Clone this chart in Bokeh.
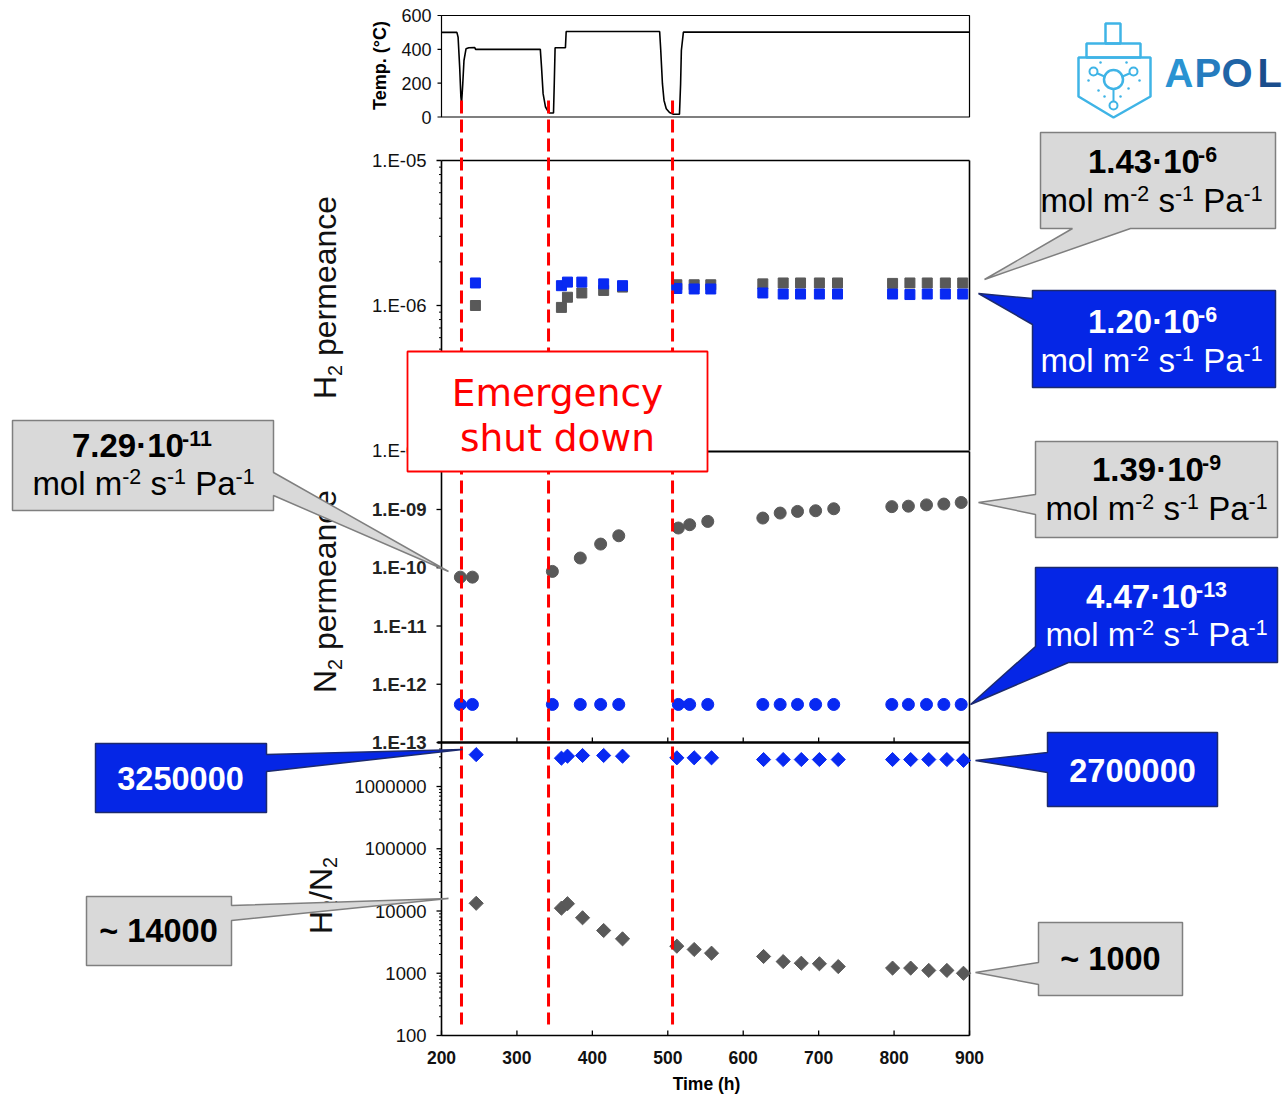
import numpy as np
from bokeh.plotting import figure
from bokeh.models import Range1d, LogScale, LinearScale, ColumnDataSource
from bokeh.core.properties import value, field
from bokeh.embed import file_html
from bokeh.resources import INLINE

# ---------------- data ----------------
# temperature profile (time in h, temperature in degC)
temp_time = [200, 220.4, 222.0, 224.1, 225.7, 226.6, 228.2, 229.8, 232.5, 236.2, 244.1, 245.2,
             331.0, 332.6, 334.7, 337.9, 341.6, 343.2, 348.5, 349.5, 350.6, 364.3, 365.3,
             489.2, 490.7, 492.9, 495.0, 498.0, 502.3, 507.6, 515.5, 517.0, 518.0, 520.7, 900]
temp_value = [500, 500, 472, 295, 118, 79, 197, 334, 403, 409, 410, 400,
              400, 295, 138, 59, 30, 24, 24, 197, 409, 410, 505,
              505, 393, 197, 98, 49, 26, 16, 16, 197, 393, 502, 502]

# H2 permeance (mol m-2 s-1 Pa-1)
h2_time = [245, 359, 367, 386, 415, 440, 512, 535, 557, 626, 653, 676, 701, 725, 798, 821, 844, 868, 891]
h2_grey = [1.00e-6, 0.97e-6, 1.14e-6, 1.22e-6, 1.27e-6, 1.34e-6, 1.39e-6, 1.39e-6, 1.39e-6, 1.41e-6,
           1.43e-6, 1.43e-6, 1.43e-6, 1.43e-6, 1.42e-6, 1.43e-6, 1.43e-6, 1.43e-6, 1.43e-6]
h2_blue = [1.43e-6, 1.37e-6, 1.45e-6, 1.45e-6, 1.41e-6, 1.37e-6, 1.31e-6, 1.30e-6, 1.30e-6, 1.22e-6,
           1.20e-6, 1.20e-6, 1.20e-6, 1.20e-6, 1.20e-6, 1.19e-6, 1.20e-6, 1.20e-6, 1.20e-6]

# N2 permeance (mol m-2 s-1 Pa-1)
n2_time = [225, 241, 347, 384, 411, 435, 514, 529, 553, 626, 649, 672, 696, 720, 797, 819, 843, 866, 889]
n2_grey = [6.9e-11, 6.9e-11, 8.65e-11, 1.47e-10, 2.55e-10, 3.54e-10, 4.81e-10, 5.48e-10, 6.24e-10, 7.13e-10,
           8.69e-10, 9.27e-10, 9.52e-10, 1.03e-9, 1.12e-9, 1.14e-9, 1.20e-9, 1.24e-9, 1.32e-9]
n2_blue = [4.5e-13, 4.5e-13, 4.5e-13, 4.5e-13, 4.5e-13, 4.5e-13, 4.5e-13, 4.5e-13, 4.5e-13, 4.5e-13,
           4.5e-13, 4.5e-13, 4.5e-13, 4.5e-13, 4.5e-13, 4.5e-13, 4.5e-13, 4.5e-13, 4.5e-13]

# H2/N2 ideal selectivity
ratio_time = [246, 359, 367, 387, 415, 440, 512, 535, 558, 627, 653, 677, 701, 726, 798, 822, 846, 870, 892]
ratio_blue = [3.25e6, 2.85e6, 3.07e6, 3.15e6, 3.15e6, 3.07e6, 2.89e6, 2.89e6, 2.89e6, 2.71e6,
              2.71e6, 2.71e6, 2.71e6, 2.71e6, 2.71e6, 2.71e6, 2.71e6, 2.71e6, 2.63e6]
ratio_grey = [1.33e4, 1.11e4, 1.31e4, 7.78e3, 4.86e3, 3.57e3, 2.72e3, 2.41e3, 2.10e3, 1.86e3,
              1.54e3, 1.45e3, 1.42e3, 1.28e3, 1.21e3, 1.21e3, 1.11e3, 1.11e3, 1.00e3]

# emergency shut-down times (h)
shutdown_time = [226.5, 341.9, 506.3]

# ticks
time_ticks = [200, 300, 400, 500, 600, 700, 800, 900]
time_tick_labels = ["200", "300", "400", "500", "600", "700", "800", "900"]
temp_ticks = [0, 200, 400, 600]
temp_tick_labels = ["0", "200", "400", "600"]
h2_ticks = [1e-5, 1e-6, 1e-7]
h2_tick_labels = ["1.E-05", "1.E-06", "1.E-07"]
n2_ticks = [1e-9, 1e-10, 1e-11, 1e-12, 1e-13]
n2_tick_labels = ["1.E-09", "1.E-10", "1.E-11", "1.E-12", "1.E-13"]
ratio_ticks = [1e6, 1e5, 1e4, 1e3, 1e2]
ratio_tick_labels = ["1000000", "100000", "10000", "1000", "100"]

# ---------------- layout ----------------
W, H, M = 1283, 1094, 0
X200, X900 = 441.0, 969.0
PPH = (X900 - X200) / 700.0
t_lo = 200 - (X200 - M) / PPH
t_hi = 200 + (M + W - X200) / PPH
T0_Y, T600_Y = 116.5, 15.0
PPDEG = (T0_Y - T600_Y) / 600.0
temp_lo = -(M + H - T0_Y) / PPDEG
temp_hi = (T0_Y - M) / PPDEG


def log_range(y_ref, log_ref, ppd):
    lo = log_ref - (M + H - y_ref) / ppd
    hi = log_ref + (y_ref - M) / ppd
    return Range1d(10 ** lo, 10 ** hi)


p = figure(width=W, height=H, x_range=Range1d(t_lo, t_hi), y_range=Range1d(temp_lo, temp_hi),
           x_axis_type=None, y_axis_type=None, output_backend="svg", toolbar_location=None,
           min_border=0, outline_line_color=None,
           background_fill_color="white", border_fill_color="white")
p.extra_x_ranges = {"px": Range1d(M, M + W)}
p.extra_x_scales = {"px": LinearScale()}
p.extra_y_ranges = {"px": Range1d(M + H, M),
                    "h2": log_range(160, -5, 145.0),
                    "n2": log_range(742, -13, 58.25),
                    "ratio": log_range(1035, 2, 62.25)}
p.extra_y_scales = {"px": LinearScale(), "h2": LogScale(), "n2": LogScale(), "ratio": LogScale()}

FONT = "Liberation Sans"
GREY = "#595959"
BLUE = "#0829f2"
BOXBLUE = "#0526e6"
BOXGREY = "#d9d9d9"

# ---------- temperature panel ----------
p.quad(left=[200], right=[900], bottom=[0], top=[600], fill_color=None, line_color="black", line_width=1.2)
p.line(temp_time, temp_value, line_color="black", line_width=1.6)
p.segment(x0=[437] * 4, x1=[441] * 4, y0=temp_ticks, y1=temp_ticks, x_range_name="px",
          line_color="black", line_width=1.2)
p.text(x=[431] * 4, y=temp_ticks, text=temp_tick_labels, x_range_name="px",
       text_font=value(FONT), text_font_size="18px", text_align="right", text_baseline="middle",
       text_color="#111111")
p.text(x=[379], y=[65], text=["Temp. (°C)"], x_range_name="px", y_range_name="px",
       text_font=value(FONT), text_font_size="18px", text_font_style="bold",
       text_align="center", text_baseline="middle", angle=np.pi / 2)

# ---------- frames of the three data panels ----------
fr = [(200, 160, 200, 450), (200, 160, 900, 160), (900, 160, 900, 450),
      (200, 451, 200, 742), (900, 451, 900, 742),
      (200, 742, 200, 1035), (200, 1035, 900, 1035), (900, 742, 900, 1035)]
p.segment(x0=[f[0] for f in fr], y0=[f[1] for f in fr], x1=[f[2] for f in fr], y1=[f[3] for f in fr],
          y_range_name="px", line_color="black", line_width=1.6)
p.segment(x0=[200], y0=[451], x1=[900], y1=[451], y_range_name="px", line_color="black", line_width=2.2)
p.segment(x0=[194.7], y0=[742], x1=[900], y1=[742], y_range_name="px", line_color="black", line_width=2.6)


def log_minors(e_from, e_to, vmax):
    out = []
    for e in range(e_from, e_to):
        for k in range(2, 10):
            v = k * 10.0 ** e
            if v < vmax:
                out.append(v)
    return out


h2_minor = log_minors(-7, -5, 1e-5)
ratio_minor = log_minors(2, 7, 4.5e6)

for rng, majors, minors in (("h2", h2_ticks, h2_minor), ("n2", n2_ticks, []), ("ratio", ratio_ticks, ratio_minor)):
    p.segment(x0=[436] * len(majors), x1=[441] * len(majors), y0=majors, y1=majors,
              x_range_name="px", y_range_name=rng, line_color="black", line_width=1.3)
    if minors:
        p.segment(x0=[438.5] * len(minors), x1=[441] * len(minors), y0=minors, y1=minors,
                  x_range_name="px", y_range_name=rng, line_color="black", line_width=1.0)

TICK_FS = "18.5px"
p.text(x=[426] * 3, y=h2_ticks, text=h2_tick_labels, x_range_name="px", y_range_name="h2",
       text_font=value(FONT), text_font_size=TICK_FS, text_align="right", text_baseline="middle",
       text_color="#111111")
p.text(x=[426] * 5, y=n2_ticks, text=n2_tick_labels, x_range_name="px", y_range_name="n2",
       text_font=value(FONT), text_font_size=TICK_FS, text_font_style="bold", text_align="right",
       text_baseline="middle", text_color="#222222")
p.text(x=[426] * 5, y=ratio_ticks, text=ratio_tick_labels, x_range_name="px", y_range_name="ratio",
       text_font=value(FONT), text_font_size=TICK_FS, text_align="right", text_baseline="middle",
       text_color="#111111")

# x ticks (inside, pointing up) for bottom panel and N2 panel
p.segment(x0=time_ticks, x1=time_ticks, y0=[1030] * 8, y1=[1035] * 8, y_range_name="px",
          line_color="black", line_width=1.3)
p.segment(x0=time_ticks[1:-1], x1=time_ticks[1:-1], y0=[737] * 6, y1=[742] * 6, y_range_name="px",
          line_color="black", line_width=1.3)
p.text(x=time_ticks, y=[1057] * 8, text=time_tick_labels, y_range_name="px",
       text_font=value(FONT), text_font_size="17.5px", text_font_style="bold",
       text_align="center", text_baseline="middle", text_color="#111111")
p.text(x=[706], y=[1083], text=["Time (h)"], x_range_name="px", y_range_name="px",
       text_font=value(FONT), text_font_size="17.5px", text_font_style="bold",
       text_align="center", text_baseline="middle")

# ---------- rich text helper (superscripts / subscripts as separate texts) ----------
REG_W = {' ': 278, '-': 333, '.': 278, '\u00b7': 278, 'm': 833, 'o': 556, 'l': 222, 's': 500,
         'P': 667, 'a': 556, 'H': 722, 'N': 722, 'p': 556, 'e': 556, 'r': 333, 'n': 556,
         'c': 500, '/': 278, '~': 584}
BOLD_W = {' ': 278, '-': 333, '.': 278, '\u00b7': 278, '~': 584}


def tw(s, size, bold):
    tot = 0
    tbl = BOLD_W if bold else REG_W
    for ch in s:
        tot += 556 if ch.isdigit() else tbl.get(ch, 556)
    return tot * size / 1000.0


def rich(pieces, center, base, size, bold=False, color="black", vertical=False, font=FONT, ratio=0.65):
    """base = baseline position of the main text (page px); text is centred on `center`."""
    parts = []
    for s, kind in pieces:
        sz = size if kind == "n" else size * ratio
        core = s.lstrip(" ")
        lead = tw(s[:len(s) - len(core)], sz, bold)
        parts.append((core, kind, sz, lead, tw(core, sz, bold)))
    total = sum(pt[3] + pt[4] for pt in parts)
    pos = -total / 2.0
    xs, ys, ts, fs = [], [], [], []
    for s, kind, sz, lead, w in parts:
        pos += lead
        shift = {"n": 0.0, "sup": -0.33 * size, "sub": 0.15 * size}[kind]
        mid = base + shift - 0.36 * sz
        if vertical:
            xs.append(mid)
            ys.append(center - pos)
        else:
            xs.append(center + pos)
            ys.append(mid)
        ts.append(s)
        fs.append("%.1fpx" % sz)
        pos += w
    src = ColumnDataSource(dict(x=xs, y=ys, text=ts, fs=fs))
    p.text(x="x", y="y", text="text", source=src, x_range_name="px", y_range_name="px",
           text_font=value(font), text_font_size=field("fs"),
           text_font_style="bold" if bold else "normal", text_color=color,
           text_align="left", text_baseline="middle",
           angle=(np.pi / 2 if vertical else 0.0))


# axis titles
rich([("H", "n"), ("2", "sub"), (" permeance", "n")], 297, 336.5, 32, vertical=True, color="#111111", ratio=0.62)
rich([("N", "n"), ("2", "sub"), (" permeance", "n")], 591, 336.5, 32, vertical=True, color="#111111", ratio=0.62)
rich([("H", "n"), ("2", "sub"), ("/N", "n"), ("2", "sub")], 895, 332, 32, vertical=True, color="#111111", ratio=0.62)

# ---------- data markers ----------
p.scatter(x=h2_time, y=h2_grey, marker="square", size=10, fill_color=GREY, line_color=GREY, y_range_name="h2")
p.scatter(x=h2_time, y=h2_blue, marker="square", size=10, fill_color=BLUE, line_color=BLUE, y_range_name="h2")
p.scatter(x=n2_time, y=n2_grey, marker="circle", size=12, fill_color=GREY, line_color=GREY, y_range_name="n2")
p.scatter(x=n2_time, y=n2_blue, marker="circle", size=12, fill_color=BLUE, line_color=BLUE, y_range_name="n2")
p.scatter(x=ratio_time, y=ratio_blue, marker="square", angle=np.pi / 4, size=10,
          fill_color=BLUE, line_color=BLUE, y_range_name="ratio")
p.scatter(x=ratio_time, y=ratio_grey, marker="square", angle=np.pi / 4, size=10,
          fill_color=GREY, line_color=GREY, y_range_name="ratio")

# ---------- shut-down lines ----------
p.segment(x0=shutdown_time, x1=shutdown_time, y0=[100] * 3, y1=[1024] * 3, y_range_name="px",
          line_color="#ff0000", line_width=3, line_dash="13 6")

# ---------- emergency box ----------
p.quad(left=[407], right=[707], top=[351], bottom=[471], x_range_name="px", y_range_name="px",
       fill_color="white", line_color="#ff0000", line_width=1.8)
p.text(x=[557, 557], y=[392, 437], text=["Emergency", "shut down"], x_range_name="px", y_range_name="px",
       text_font=value("DejaVu Sans"), text_font_size="37.5px", text_color="#ff0000",
       text_align="center", text_baseline="middle")

# ---------- callouts ----------
callouts = [
    ([(1040, 132), (1275, 132), (1275, 228), (1130, 228), (984, 279), (1072, 228), (1040, 228)], BOXGREY, "#7f7f7f"),
    ([(1032, 290), (1275, 290), (1275, 387), (1032, 387), (1032, 324), (978, 293), (1032, 298)], BOXBLUE, "#1c2a6e"),
    ([(12, 420), (273, 420), (273, 472), (448, 571), (273, 495), (273, 510), (12, 510)], BOXGREY, "#7f7f7f"),
    ([(1035, 441), (1277, 441), (1277, 537), (1035, 537), (1035, 514), (978, 502), (1035, 494)], BOXGREY, "#7f7f7f"),
    ([(1035, 567), (1277, 567), (1277, 662), (1068, 662), (970, 704), (1035, 646)], BOXBLUE, "#1c2a6e"),
    ([(95, 743), (266, 743), (266, 754), (462, 749), (266, 771), (266, 812), (95, 812)], BOXBLUE, "#1c2a6e"),
    ([(1047, 732), (1217, 732), (1217, 806), (1047, 806), (1047, 772), (975, 760), (1047, 752)], BOXBLUE, "#1c2a6e"),
    ([(86, 896), (231, 896), (231, 905), (448, 898), (231, 920), (231, 965), (86, 965)], BOXGREY, "#7f7f7f"),
    ([(1038, 922), (1182, 922), (1182, 995), (1038, 995), (1038, 984), (975, 972), (1038, 962)], BOXGREY, "#7f7f7f"),
]
for verts, fill, line in callouts:
    p.patch([v[0] for v in verts], [v[1] for v in verts], x_range_name="px", y_range_name="px",
            fill_color=fill, line_color=line, line_width=1.5)

CS = 33
unit = [("mol m", "n"), ("-2", "sup"), (" s", "n"), ("-1", "sup"), (" Pa", "n"), ("-1", "sup")]
rich([("1.43\u00b710", "n"), ("-6", "sup")], 1152, 173, CS, bold=True)
rich(unit, 1151, 212, CS)
rich([("1.20\u00b710", "n"), ("-6", "sup")], 1152, 333, CS, bold=True, color="white")
rich(unit, 1151, 372, CS, color="white")
rich([("7.29\u00b710", "n"), ("-11", "sup")], 142, 457, CS, bold=True)
rich(unit, 143, 495, CS)
rich([("1.39\u00b710", "n"), ("-9", "sup")], 1156, 481, CS, bold=True)
rich(unit, 1156, 520, CS)
rich([("4.47\u00b710", "n"), ("-13", "sup")], 1156, 608, CS, bold=True, color="white")
rich(unit, 1156, 646, CS, color="white")
NS = 32.5
rich([("3250000", "n")], 180, 778 + 0.36 * NS, NS, bold=True, color="white")
rich([("2700000", "n")], 1132, 769.5 + 0.36 * NS, NS, bold=True, color="white")
rich([("~ 14000", "n")], 158, 930.5 + 0.36 * NS, NS, bold=True)
rich([("~ 1000", "n")], 1110, 958.5 + 0.36 * NS, NS, bold=True)

# ---------- logo ----------
LOGO = "#3fb4e6"
p.quad(left=[1105, 1086], right=[1120, 1140], top=[23, 43], bottom=[43, 57], x_range_name="px",
       y_range_name="px", fill_color=None, line_color=LOGO, line_width=2.5)
p.patch([1078, 1150, 1150, 1113, 1078], [57, 57, 96, 117, 96], x_range_name="px", y_range_name="px",
        fill_color=None, line_color=LOGO, line_width=2.5)
p.segment(x0=[1104, 1122, 1113], y0=[76, 76, 88.5], x1=[1096, 1130, 1113], y1=[72.5, 72.5, 101],
          x_range_name="px", y_range_name="px", line_color=LOGO, line_width=2)
p.scatter(x=[1113], y=[79], marker="circle", size=19, fill_color=None, line_color=LOGO, line_width=2.5,
          x_range_name="px", y_range_name="px")
p.scatter(x=[1093, 1133, 1113], y=[71, 71, 105], marker="circle", size=8, fill_color="white",
          line_color=LOGO, line_width=2, x_range_name="px", y_range_name="px")
p.scatter(x=[1100, 1126, 1098, 1128, 1120, 1104, 1088, 1139], y=[62, 62, 90, 88, 96, 96, 80, 80],
          marker="circle", size=2.5, fill_color=LOGO, line_color=None, x_range_name="px", y_range_name="px")
logo_src = ColumnDataSource(dict(x=[1164, 1194, 1221, 1257], y=[72, 72, 72, 72], text=["A", "P", "O", "L"],
                                 c=["#2a93d2", "#257cbf", "#1f64a6", "#1a4d8c"]))
p.text(x="x", y="y", text="text", source=logo_src, x_range_name="px", y_range_name="px",
       text_font=value(FONT), text_font_size="40px", text_font_style="bold", text_color="c",
       text_align="left", text_baseline="middle")

open("out.html", "w").write(file_html(p, INLINE))
